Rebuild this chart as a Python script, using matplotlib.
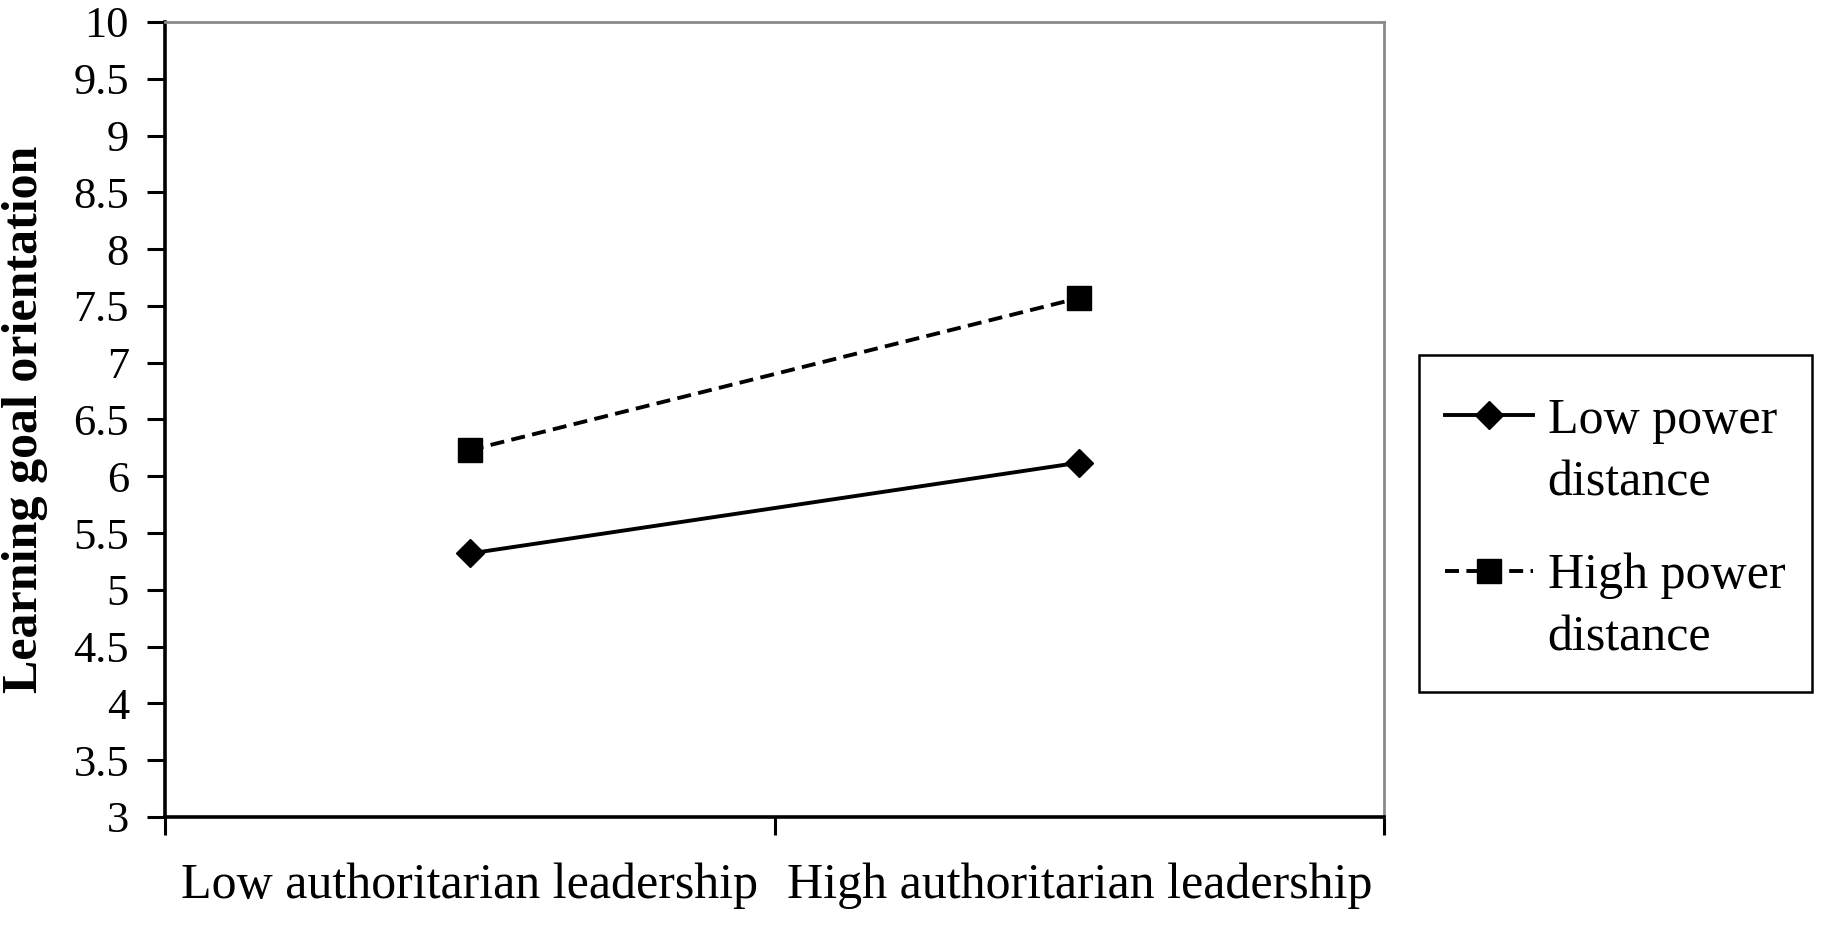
import matplotlib
matplotlib.use('Agg')
import matplotlib.pyplot as plt
from matplotlib.legend_handler import HandlerLine2D
from matplotlib.patches import Rectangle

plt.rcParams['font.family'] = ['Liberation Serif', 'DejaVu Serif']

# data
categories = ['Low authoritarian leadership', 'High authoritarian leadership']
low_pd = [5.32, 6.12]
high_pd = [6.23, 7.57]
series_names = ['Low power\ndistance', 'High power\ndistance']
y_ticks = [3, 3.5, 4, 4.5, 5, 5.5, 6, 6.5, 7, 7.5, 8, 8.5, 9, 9.5, 10]

fs = 36


class FirstLineHandler(HandlerLine2D):
    # put the legend handle next to the first text line, not the middle
    def create_artists(self, legend, orig_handle, xdescent, ydescent,
                       width, height, fontsize, trans):
        arts = super().create_artists(legend, orig_handle, xdescent, ydescent,
                                      width, height, fontsize, trans)
        for a in arts:
            a.set_ydata([y + 0.73 * fontsize for y in a.get_ydata()])
        return arts


fig = plt.figure(figsize=(18.26, 9.27), dpi=100)
ax = fig.add_axes([0.0904, 0.1187, 0.758 - 0.0904, 0.9763 - 0.1187])

x = [i + 0.5 for i in range(len(categories))]
ax.plot(x, low_pd, color='black', lw=2.8, marker='D', ms=14,
        label=series_names[0])
ax.plot(x, high_pd, color='black', lw=2.8, ls=(0, (3.6, 1.9)), marker='s',
        ms=17, label=series_names[1])

ax.set_xlim(0, len(categories))
ax.set_ylim(3, 10)
ax.set_yticks(y_ticks)
ax.set_yticklabels(['%g' % v for v in y_ticks])
ax.set_xticks(range(len(categories) + 1))
ax.set_xticklabels([])
ax.set_xticks(x, minor=True)
ax.set_xticklabels(categories, minor=True)

ax.tick_params(axis='both', which='major', direction='out', length=13,
               width=2.2, color='black', labelsize=32)
ax.tick_params(axis='y', pad=13)
ax.tick_params(axis='x', which='minor', length=0, labelsize=fs, pad=33)

ax.spines['left'].set_linewidth(2.6)
ax.spines['bottom'].set_linewidth(2.6)
ax.spines['top'].set_color('#8a8a8a')
ax.spines['right'].set_color('#8a8a8a')
ax.spines['top'].set_linewidth(2)
ax.spines['right'].set_linewidth(2)

ax.set_ylabel('Learning goal orientation', fontsize=fs, fontweight='bold')
ax.yaxis.set_label_coords(-0.096, 0.5)

# legend box drawn separately so its padding can differ in x and y
fig.patches.append(Rectangle((0.7771, 0.2535), 0.2152, 0.3635,
                             transform=fig.transFigure, fill=False,
                             edgecolor='black', lw=1.8))
leg = fig.legend(loc='upper left', bbox_to_anchor=(0.7914, 0.5715),
                 fontsize=fs, frameon=False,
                 handlelength=1.75, handletextpad=0.3, borderpad=0,
                 labelspacing=0.93, borderaxespad=0,
                 handler_map={matplotlib.lines.Line2D: FirstLineHandler()})
for t in leg.get_texts():
    t.set_linespacing(1.45)

fig.savefig('out.png', dpi=100)
